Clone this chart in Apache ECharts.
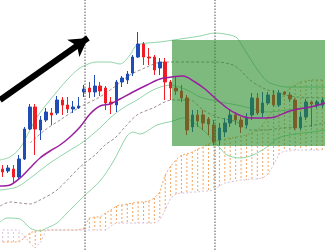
<!DOCTYPE html>
<html><head><meta charset="utf-8">
<script src="https://cdn.jsdelivr.net/npm/echarts@6/dist/echarts.min.js"></script>
<style>html,body{margin:0;padding:0;background:#fff}#c{width:325px;height:250px}</style>
</head><body><div id="c"></div>
<script>
// candles: [open, close, low, high]
const candles = [
[81,78,73,85],[79,82,77,85],[81,73,67,85],[73,91,70,95],[91,121,90,123],
[121,143,120,146],[143,121,95,146],[120,130,110,134],[130,138,128,142],[137,135,125,142],
[137,150,135,154],[150,145,135,153],[145,141,137,153],[141,143,137,149],[142,144,141,153],
[158,161,153,165],[162,158,152,168],[158,164,153,175],[164,159,154,168],[162,147,140,164],
[148,146,136,153],[145,168,138,170],[168,172,163,174],[170,176,166,179],[177,193,174,195],
[193,206,192,218],[206,193,185,208],[193,192,185,202],[193,180,175,195],[182,188,175,192],
[188,168,150,192],[168,162,150,170],[162,159,155,173],[159,152,148,165],[152,120,115,155],
[123,135,118,140],[135,129,123,140],[135,127,120,140],[131,126,115,133],[125,108,105,130],
[110,122,105,127],[118,127,113,132],[127,135,123,140],[135,130,125,138],[130,123,117,133],
[125,133,122,137],[135,152,130,157],[152,137,135,157],[137,147,133,158],[147,155,145,158],
[155,145,143,160],[145,157,143,160],[158,156,155,159],[155,151,148,158],[150,122,120,152],
[122,133,120,138],[133,148,130,151],[148,146,123,148],[145,148,142,150],[145,150,142,152]
];
const categories = candles.map((_, i) => String(i + 1));

// Ichimoku spans per candle
const spanA = [8,8,8,8,12,17,19,20,20,20,20,20,20,20,20,22,32,33,33,37,40,44,45,46,47,48,48,49,52,58,
75,84,90,95,96,98,101,103,106,108,110,111,112,113,114,115,117,120,125,133,140,149,155,162,165,168,169,170,170,170];
const spanB = [20,20,20,20,14,7,2,8,20,20,20,20,20,20,20,20,20,20,20,20,24,27,27,27,27,27,27,27,27,30,
40,52,56,57,57,58,58,59,59,60,64,67,68,69,70,70,71,71,72,76,85,96,99,99,100,100,100,100,100,100];

// indicator lines: [time position, value]
const maLine = [[0,64],[10,65],[20,72],[30,82],[40,92],[50,99],[60,105],[70,113],[80,123],[90,136],[100,144],[110,146],[120,151],[133,158],[147,165],[160,171],[172,173],[183,174],[195,168],[205,161],[215,152],[227,142],[237,136],[250,132],[265,132],[275,133],[290,139],[305,142],[315,144],[325,147]];
const bbUpper = [[0,90],[10,93],[20,102],[30,120],[37,133],[50,150],[67,170],[80,182],[97,188],[110,188],[120,186],[130,195],[137,205],[160,208],[187,212],[200,214],[215,217],[230,215],[237,212],[243,203],[253,187],[263,173],[270,167],[287,163],[325,163]];
const bbMiddle = [[0,60],[17,63],[33,74],[50,87],[67,98],[83,108],[100,122],[110,132],[123,142],[137,150],[153,160],[170,165],[187,160],[200,153],[220,148],[237,145],[250,142],[267,138],[287,140],[310,143],[325,145]];
const bbLower = [[0,28],[7,32],[20,31],[30,22],[40,19],[47,22],[57,27],[67,37],[83,53],[100,69],[113,88],[127,114],[133,118],[140,116],[157,125],[173,129],[183,132],[190,130],[203,120],[213,110],[220,102],[227,95],[240,92],[253,95],[267,103],[278,112],[295,116],[312,118],[325,120]];
const envUpper = [[30,107],[45,120],[60,130],[80,143],[98,152],[113,162],[130,175],[147,183],[157,187],[170,188],[217,188],[233,185],[240,180],[250,170],[263,162],[277,157],[297,153],[325,152]];
const envLower = [[0,44],[10,48],[20,47],[30,46],[40,50],[57,60],[80,83],[95,95],[105,105],[115,112],[125,123],[137,135],[153,142],[172,150],[190,150],[203,140],[217,133],[237,128],[250,120],[265,120],[282,122],[302,123],[325,127]];
const separators = [84.5, 215];
const zoneBox = [[172,210],[325,104]];
const trendArrow = [[0,150],[88,212]];

const chart = echarts.init(document.getElementById('c'));
const lineS = (data, color, width, type, z) => ({
  type:'line', xAxisIndex:1, data, showSymbol:false, smooth:0.3, silent:true, z: z || 2,
  lineStyle:{color, width, type: type || 'solid'}
});
chart.setOption({
  animation:false,
  grid:{left:0,right:0,top:0,bottom:0},
  xAxis:[
    {type:'category', data:categories, boundaryGap:true, show:false},
    {type:'value', min:0, max:325, show:false}
  ],
  yAxis:{type:'value', min:0, max:250, show:false},
  series:[
    {type:'custom', xAxisIndex:0, silent:true, z:1,
     data: spanA.map((a,i)=>[i,a,spanB[i]]),
     renderItem:(params, api)=>{
       const a = api.value(1), b = api.value(2);
       if (a === b) return null;
       const p1 = api.coord([api.value(0), a]), p2 = api.coord([api.value(0), b]);
       return {type:'line', shape:{x1:p1[0],y1:p1[1],x2:p2[0],y2:p2[1]},
         style:{stroke: a > b ? '#f4a460' : '#d8bfd8', lineWidth:1, lineDash:[2,2]}};
     }},
    {type:'line', xAxisIndex:0, data:spanA, showSymbol:false, silent:true, z:1, lineStyle:{color:'#f4a460', width:1, type:[2,2]}},
    {type:'line', xAxisIndex:0, data:spanB, showSymbol:false, silent:true, z:1, lineStyle:{color:'#d8bfd8', width:1, type:[2,2]}},
    lineS(bbUpper, '#8fd4a8', 1),
    lineS(bbMiddle, '#8fd4a8', 1),
    lineS(bbLower, '#8fd4a8', 1),
    lineS(envUpper, '#a09090', 1, [3,2]),
    lineS(envLower, '#a09090', 1, [3,2]),
    lineS(maLine, '#9a1f9f', 1.5, 'solid', 11),
    {type:'line', xAxisIndex:1, data:[], silent:true, z:3,
     markLine:{silent:true, symbol:'none', label:{show:false}, animation:false,
       lineStyle:{color:'#8c8c8c', width:1.5, type:'dotted'},
       data: separators.map(x=>({xAxis:x}))}},
    {type:'candlestick', xAxisIndex:0, data:candles, barWidth:3, silent:true, z:4,
     itemStyle:{color:'#1f4cb5', color0:'#f01c24', borderColor:'#1f4cb5', borderColor0:'#f01c24', borderWidth:1}},
    {type:'line', xAxisIndex:1, data:[], silent:true, z:10,
     markArea:{silent:true, z:10, itemStyle:{color:'rgba(40,140,40,0.6)'},
       data:[[{coord:zoneBox[0]},{coord:zoneBox[1]}]]}},
    {type:'line', xAxisIndex:1, data:[], silent:true, z:12,
     markLine:{silent:true, z:12, symbol:['none','arrow'], symbolSize:[16,18], label:{show:false}, animation:false,
       lineStyle:{color:'#000', width:6, type:'solid'},
       data:[[{coord:trendArrow[0]},{coord:trendArrow[1]}]]}}
  ]
});
</script></body></html>
